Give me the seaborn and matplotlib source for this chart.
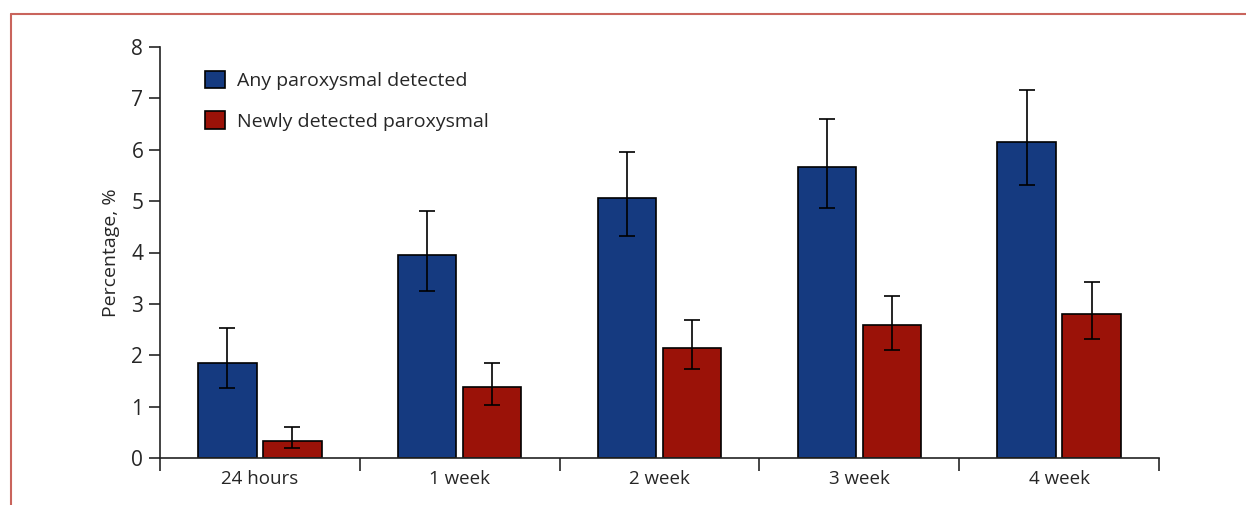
import matplotlib
matplotlib.use("Agg")
import matplotlib.pyplot as plt
from matplotlib.lines import Line2D
from matplotlib.patches import Patch
import seaborn as sns
import pandas as pd
import numpy as np

# values
periods = ["24 hours", "1 week", "2 week", "3 week", "4 week"]
any_pct = [1.85, 3.95, 5.07, 5.66, 6.15]
any_lo = [1.36, 3.26, 4.32, 4.87, 5.32]
any_hi = [2.53, 4.81, 5.96, 6.60, 7.17]
new_pct = [0.33, 1.39, 2.15, 2.58, 2.81]
new_lo = [0.19, 1.03, 1.73, 2.10, 2.31]
new_hi = [0.61, 1.85, 2.68, 3.16, 3.43]
series = ["Any paroxysmal detected", "Newly detected paroxysmal"]
colors = ["#153a80", "#9b1208"]

df = pd.DataFrame({
    "period": periods * 2,
    "pct": any_pct + new_pct,
    "group": [series[0]] * 5 + [series[1]] * 5,
})

sns.set_style("white")
plt.rcParams["font.family"] = ["Open Sans", "DejaVu Sans"]

fig = plt.figure(figsize=(12.46, 5.05), dpi=100)
ax = fig.add_axes([0.1284, 0.0931, 0.8018, 0.8138])

sns.barplot(data=df, x="period", y="pct", hue="group", order=periods,
            hue_order=series, palette=colors, width=0.65, gap=0.1,
            edgecolor="black", linewidth=1.2, saturation=1, ax=ax,
            legend=False)

# error bars on each bar, using the bar centres seaborn placed
bars = [p for p in ax.patches]
lows = any_lo + new_lo
highs = any_hi + new_hi
vals = any_pct + new_pct
for bar, v, lo, hi in zip(bars, vals, lows, highs):
    xc = bar.get_x() + bar.get_width() / 2
    ax.errorbar(xc, v, yerr=[[v - lo], [hi - v]], fmt="none",
                ecolor="black", elinewidth=1.2, capsize=6, capthick=1.2)

ax.set_xlim(-0.5, 4.5)
ax.set_ylim(0, 8)
ax.set_yticks(range(0, 9))
ax.set_xlabel("")
ax.set_ylabel("Percentage, %", fontsize=14, labelpad=8)
ax.tick_params(axis="y", labelsize=15, length=8, width=1.2, direction="out",
               left=True, pad=4)
ax.tick_params(axis="x", labelsize=13.5, length=0, pad=9)
ax.set_xticks(np.arange(-0.5, 5, 1), minor=True)
ax.tick_params(axis="x", which="minor", length=9, width=1.2, bottom=True,
               direction="out")

sns.despine(ax=ax, top=True, right=True)
for s in ["left", "bottom"]:
    ax.spines[s].set_linewidth(1.2)
    ax.spines[s].set_color("#222222")

handles = [Patch(facecolor=c, edgecolor="black", linewidth=1.2) for c in colors]
ax.legend(handles, series, loc="upper left", bbox_to_anchor=(0.028, 0.985),
          frameon=False, fontsize=14, handlelength=1.0, handleheight=1.0,
          labelspacing=1.1, handletextpad=0.6)

# thin red frame from the source page
frame_c = "#c9645c"
fig.add_artist(Line2D([11 / 1246, 1.0], [1 - 14 / 505, 1 - 14 / 505],
                      transform=fig.transFigure, color=frame_c, lw=1.5))
fig.add_artist(Line2D([11 / 1246, 11 / 1246], [0, 1 - 14 / 505],
                      transform=fig.transFigure, color=frame_c, lw=1.5))

fig.savefig("out.png", dpi=100)
